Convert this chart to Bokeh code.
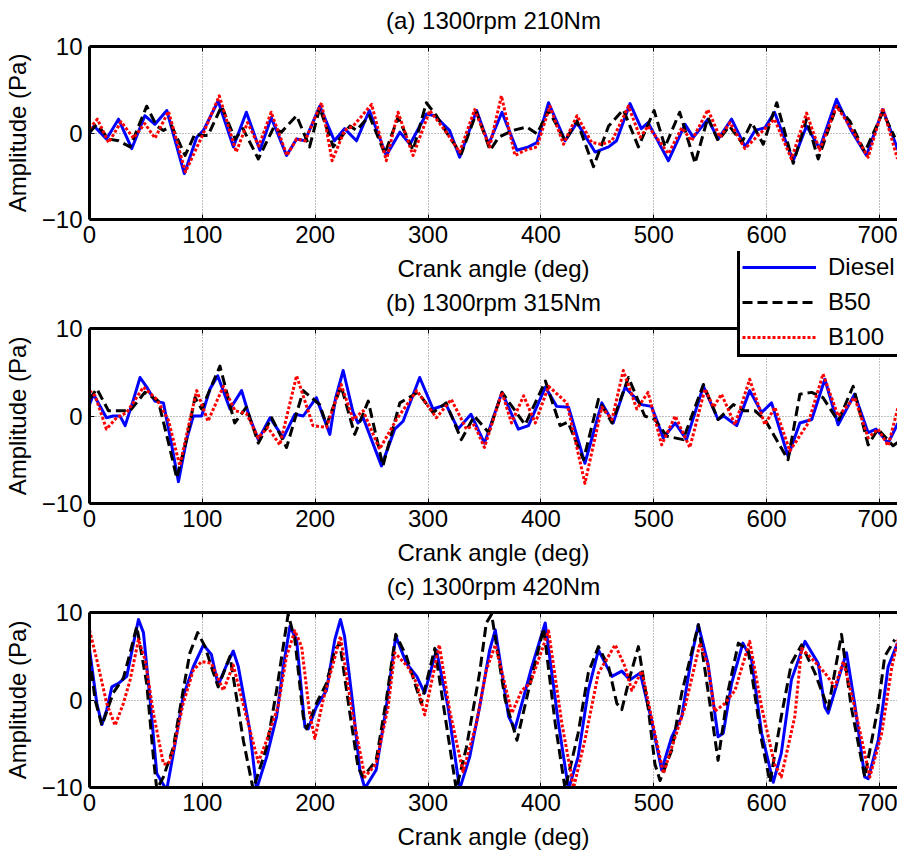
from bokeh.plotting import figure
from bokeh.models import Range1d, FixedTicker, LinearAxis, Legend, LegendItem
from bokeh.layouts import column
from bokeh.embed import file_html
from bokeh.resources import INLINE

# ---------------- data ----------------
panel_titles = ["(a) 1300rpm 210Nm", "(b) 1300rpm 315Nm", "(c) 1300rpm 420Nm"]
series_names = ["Diesel", "B50", "B100"]
x_ticks = [0, 100, 200, 300, 400, 500, 600, 700]
y_ticks = [-10, 0, 10]

# Panel (a) 210 Nm
a_diesel_x = [0, 4, 15, 25.7, 37.5, 49, 58, 68.5, 84, 95, 101, 114, 127.5, 139, 151, 161, 174.6, 183.5, 191, 204, 217, 226, 236.6, 248, 263, 275, 284, 298.5, 306, 319, 328, 343, 353.7, 365.5, 378.8, 389, 396.5, 406.8, 421.5, 432, 448, 460, 467, 479, 489, 495, 513, 527.7, 535, 548, 557, 569, 581, 589.7, 598.5, 607, 623.6, 635.4, 647, 662, 675, 688.5, 703, 716.5]
a_diesel_y = [0, 0.8, -0.7, 1.6, -1.8, 2.0, 1.0, 2.6, -4.7, -0.5, 0.3, 3.7, -1.6, 2.4, -2.0, 1.8, -2.6, -0.7, -0.9, 3.1, -0.9, 0.5, -0.9, 2.6, -2.6, 0.1, -1.3, 2.2, 2.0, 0.3, -2.8, 2.6, -1.3, 2.4, -2.0, -1.6, -1.1, 3.5, -0.9, 1.2, -2.2, -1.6, -0.9, 3.4, 0.5, 1.2, -3.2, 1.0, -0.5, 1.6, -0.7, 1.6, -1.6, 0.3, 0.6, 2.4, -3.2, 0.8, -1.8, 3.9, 0.3, -2.6, 2.7, -2.0]
a_b50_x = [0, 6.5, 17, 25.7, 36, 50.7, 59.6, 65.5, 72.9, 84.7, 93.5, 99.4, 105, 117, 129, 136, 149.6, 163, 170, 183.5, 195, 204, 216, 230.7, 236.6, 248, 261.7, 273.4, 286.7, 298.5, 307.4, 319, 329.5, 343, 355, 362.5, 375, 387.6, 396.5, 406.8, 421.5, 432, 446.6, 460, 473, 486.4, 500.3, 510, 523, 536.6, 548, 557, 567, 578, 586.7, 597, 609, 623.6, 635.4, 645.7, 662, 673.7, 687, 703, 713.6]
a_b50_y = [0.1, 1.0, -0.7, -0.9, -1.6, 3.1, 0.8, 0.3, 0.8, -2.6, -0.1, -0.3, -0.3, 3.1, -0.7, 0.5, -3.0, 0.6, 0.1, 2.0, -1.6, 2.9, -1.6, 0.8, 0.3, 2.0, -2.4, 1.8, -2.0, 3.5, 2.0, -0.5, -2.4, 2.4, -2.0, -0.5, 0.3, 0.7, -0.1, 2.6, -0.9, 1.4, -3.9, 0.8, 2.7, -1.6, 2.6, -1.6, 2.4, -3.5, 1.8, -0.9, 0.8, -1.1, 1.2, -1.3, 3.5, -3.5, 1.6, -3.0, 3.1, 1.4, -2.2, 2.4, -0.5]
a_b100_x = [0, 7, 17, 28, 39, 49, 58, 70, 85, 100, 115, 130, 140, 150, 161, 175, 183.5, 191, 205.6, 215, 226, 233.6, 250, 263, 273.4, 286.7, 301.5, 315, 328, 341.3, 354.6, 365, 377, 386, 396.5, 408, 420, 432, 445, 454, 463, 477.6, 488, 495, 513, 524.8, 533.6, 548, 558.7, 567.6, 580.8, 598.5, 607, 622, 635.4, 647, 662, 673.7, 690, 703, 716]
a_b100_y = [0.5, 1.6, -1.1, 1.3, -0.6, 1.1, -0.6, 2.5, -4.5, -0.3, 4.3, -2.2, 1.2, -1.5, 2.4, -2.6, -0.7, -0.9, 3.5, -3.2, 0.3, 0.8, 3.3, -3.2, 2.4, -2.6, 2.6, 0.3, -2.2, 2.7, -1.6, 4.3, -2.6, -2.0, -1.6, 3.1, -1.3, 2.0, -1.1, -1.3, -0.9, 3.1, -0.5, 0.8, -2.4, 0.6, -0.9, 2.7, -0.5, 1.2, -1.8, 0.5, 1.6, -3.0, 2.3, -2.0, 3.1, 0.8, -2.8, 2.9, -3.0]

# Panel (b) 315 Nm
b_diesel_x = [0, 3.5, 15, 21, 27, 31.6, 39, 44.8, 50.7, 58, 65.5, 72.9, 78.8, 86, 92, 99.4, 106.8, 113.6, 124.5, 134.8, 142, 149.6, 160, 171.7, 182, 189.4, 201, 213, 218, 224.8, 233.6, 238, 242.5, 258.7, 270.5, 277.9, 292.6, 304.4, 316, 326.5, 338, 350, 365.5, 380, 389, 404, 414, 424.5, 439, 454, 464, 474.6, 489, 498, 508.5, 519, 529, 544, 557, 562, 573.5, 585, 595.6, 604.4, 619, 629.5, 640, 651.6, 663.4, 678, 690, 697, 707.7, 716.5]
b_diesel_y = [1.3, 2.5, -0.2, 0, 0, -1.1, 1.9, 4.4, 3.3, 1.7, 1.5, -3.4, -7.5, -2.7, 0, 0, 3.1, 4.6, 0.8, 2.9, -0.2, -2.7, -0.2, -2.5, 0.2, 0, 2.1, -2.1, 2.0, 5.2, 0.4, -0.8, -0.2, -5.7, -1.5, -0.6, 4.4, 0.8, 1.3, -1.5, 0.2, -3.1, 2.7, -1.5, -1.1, 3.3, 1.1, 1.0, -5.4, 1.5, -0.8, 3.3, 1.3, 1.1, -2.5, -0.8, -2.7, 3.4, -0.4, 0, -1.1, 2.9, 0.4, 1.5, -4.6, -0.8, -0.4, 4.2, -1.0, 2.5, -1.9, -1.5, -3.1, -0.8]
b_b50_x = [0, 6.5, 16.8, 25.7, 36, 49, 61, 71.4, 77.3, 86, 93.5, 99.4, 115.6, 128.6, 139, 149.6, 161.4, 174.6, 189.4, 204, 210, 223, 235, 247, 260, 275, 291, 304.4, 316, 329.5, 341, 353.7, 365.5, 386, 404, 417, 424, 437.8, 451, 463, 477.6, 492, 501, 511.5, 526, 544, 557, 570.5, 580, 589.7, 598.5, 619, 629.5, 640, 650, 663.4, 676.7, 690, 698.8, 712, 716.5]
b_b50_y = [1.9, 3.1, 0.6, 0.6, 0.6, 2.7, 1.7, -3.8, -7.1, -2.7, 2.1, 0.8, 5.7, -0.8, 1.0, -3.1, -0.2, -3.6, 2.9, 1.3, -1.0, 3.4, -2.1, 1.7, -5.7, 1.5, 2.7, 0.4, 1.5, -2.7, 0, -1.9, 2.7, -1.0, 4.0, -1.1, -0.7, -5.0, 1.9, -0.8, 4.4, 0, -0.4, -2.3, -2.7, 3.6, -0.4, 1.3, 0.6, 0.6, -0.4, -5.0, 2.5, 2.7, 2.1, -0.6, 3.4, -3.3, -1.5, -3.4, -3.0]
b_b100_x = [0, 5, 15, 24, 33, 47.8, 59.6, 70, 80, 88, 95, 105, 118.6, 129, 139, 149.6, 158, 168.7, 183.5, 198, 210, 223, 233.6, 242.5, 257, 272, 290, 307.4, 320.6, 334, 341, 350, 365.5, 374, 384.7, 395, 406.8, 423, 439, 454, 463, 473, 485, 495, 507, 519, 532, 545.4, 553, 560, 572, 585, 598.5, 607.4, 620.6, 636.9, 650, 663.4, 678, 690, 698.8, 707.7, 716.5]
b_b100_y = [2.9, 2.3, -1.5, -0.2, 0.4, 3.3, 1.9, -0.5, -5.7, -1.0, 2.9, -0.6, 3.4, 0.6, 0.3, -2.5, -1.3, -3.3, 4.6, -1.1, -1.3, 3.6, -0.4, 0.6, -3.8, -0.4, 2.9, -0.2, 1.9, -1.5, -1.0, -3.6, 2.7, -0.8, 2.3, -0.8, 3.4, 1.5, -7.7, 1.0, -0.4, 5.2, 0.8, 2.7, -3.3, 0, -3.6, 3.1, 1.0, 2.5, -1.0, 4.2, -1.0, 1.0, -4.0, -0.8, 4.8, 0, 2.1, -2.5, -1.5, -3.4, 1.0]

# Panel (c) 420 Nm
c_diesel_x = [0, 6.5, 11, 15.3, 19.8, 25.7, 33, 39, 43.4, 47.8, 53.7, 59.6, 68.4, 74.3, 83, 92, 101, 108, 114, 121.5, 127.4, 131.9, 142, 148, 157, 165.8, 171.7, 177.6, 183.5, 190.9, 193.8, 201, 210, 217.4, 222.4, 226, 233.6, 239.5, 244, 254, 263, 271.4, 280.8, 290, 297, 307.4, 317.7, 328, 336.9, 345.7, 354.6, 359.6, 371.4, 377, 392, 403.8, 415.6, 424.5, 433, 442, 451, 463, 471.7, 479, 488, 498, 507, 516, 524.8, 533.6, 539.5, 548, 557, 561.6, 569, 579, 586.7, 595.6, 605.9, 613, 622, 634, 645.7, 651.6, 654.6, 663.4, 670.8, 678, 687, 690, 699, 707.7, 716]
c_diesel_y = [5.8, -0.4, -2.8, -1.1, 1.5, 1.9, 2.7, 6.5, 9.2, 7.7, 0, -8.4, -10.3, -6.1, 0.4, 3.8, 6.3, 5.2, 1.7, 4.0, 5.6, 3.8, -3.4, -10.2, -6.5, -1.9, 3.8, 8.4, 6.9, -3.1, -3.3, -0.8, 1.1, 6.9, 9.2, 7.3, -0.8, -8.0, -10.1, -8.0, -0.8, 7.3, 4.2, 2.7, 0.8, 5.7, -0.8, -10.2, -6.5, -0.8, 5.7, 8.0, -1.9, -3.3, 3.8, 8.8, -2.7, -10.2, -6.5, 1.1, 5.7, 2.7, 3.3, 2.3, 3.1, -2.3, -8.0, -4.2, -1.9, 5.0, 8.6, 4.2, -4.2, -3.8, 1.9, 6.5, 4.6, -3.8, -9.4, -6.1, 2.3, 6.7, 4.2, -0.8, -1.5, 2.3, 5.4, -0.4, -8.8, -9.0, -4.6, 3.8, 6.5]
c_b50_x = [0, 5, 11, 21, 30, 36, 41.9, 50.7, 56.6, 59.6, 65.5, 74.3, 83, 89, 95.9, 102.4, 108, 114, 124.5, 136.3, 145, 157, 165.8, 176, 182, 189.4, 192.3, 201, 210, 217.4, 221.8, 230.7, 238, 242.5, 254, 263, 271.4, 280.8, 294, 306, 314.7, 325, 334, 345.7, 351.6, 356.3, 368.4, 378.8, 389, 402.4, 412.7, 421.5, 433, 442, 451, 460, 467.3, 471.7, 479, 486.4, 495, 501, 505.6, 516, 524.8, 539.5, 551, 557, 566, 575, 583.7, 595.6, 603, 613, 622, 631, 642.8, 654.6, 666.4, 675, 687, 698.8, 704.7, 713.6]
c_b50_y = [5.0, 0, -2.9, 0.8, 2.5, 5.4, 8.4, 1.9, -6.5, -10.2, -8.8, -5.4, 1.1, 5.4, 7.7, 6.1, 3.8, 1.5, 5.0, -4.6, -10.2, -5.4, 1.1, 9.8, 6.9, -1.9, -3.3, -0.4, 1.9, 5.7, 6.5, -1.5, -7.7, -8.8, -6.9, 0, 7.5, 5.0, -0.4, 5.9, -1.5, -10.2, -5.4, 3.1, 8.8, 9.8, 0, -4.6, 1.1, 8.2, -2.7, -10.2, -3.8, 3.1, 6.1, 3.8, -0.4, -1.1, 2.7, 6.1, -0.8, -7.3, -9.2, -5.7, 0.8, 8.6, -1.5, -6.9, 1.1, 6.5, 5.7, -4.6, -9.4, -1.9, 4.2, 6.3, 3.1, -1.0, 7.5, -0.8, -8.8, -0.8, 5.0, 6.9]
c_b100_x = [0, 6.5, 15.3, 22.7, 30, 36, 43.4, 49.3, 56.6, 65.5, 70, 74.3, 83, 92, 99.4, 108, 118.6, 127.4, 139, 149.6, 157, 167, 174.6, 182, 188, 195, 199.7, 207, 216, 222.4, 232, 244, 254, 264.6, 270.5, 282, 290, 297, 310, 319, 331, 342.8, 351.6, 359.6, 374.3, 383, 390.6, 406.8, 418.6, 429, 439, 451, 465.8, 474.6, 480.5, 489.4, 501, 508.6, 516, 527.7, 541, 548, 554, 563, 572, 585, 595.6, 607, 613, 625, 631, 641, 651.6, 660.5, 668, 678, 691.5, 702, 711, 716.5]
c_b100_y = [8.0, 4.6, -0.4, -2.9, -0.4, 2.3, 6.9, 4.6, -1.5, -7.3, -7.3, -5.7, -0.4, 3.4, 4.4, 4.2, 1.1, 4.0, -1.9, -7.1, -4.6, -0.8, 5.0, 7.9, 6.1, -1.5, -4.4, 0, 4.2, 7.3, -0.8, -8.8, -7.3, -0.8, 5.4, 3.8, 1.9, -1.7, 6.3, -1.1, -8.2, -2.7, 3.4, 6.3, -1.5, 1.1, 1.9, 7.9, -2.7, -10.0, -4.6, 3.1, 6.3, 3.8, 1.1, 3.3, -3.8, -8.4, -5.4, -0.8, 6.5, 4.0, -1.3, -0.4, 1.1, 6.7, -0.8, -7.3, -8.8, -1.9, 5.9, 4.6, 3.1, 1.5, 4.4, -0.8, -8.8, -3.8, 3.8, 6.9]

# ---------------- styling ----------------
FONT = "Liberation Sans"
FS = "24px"
colors = {"Diesel": "#0000ff", "B50": "#000000", "B100": "#ff0000"}
dashes = {"Diesel": "solid", "B50": "10 5", "B100": "3 2"}
LW = 3
LEFT = 88


def style_axis(ax):
    ax.axis_line_width = 3
    ax.axis_line_color = "black"
    ax.major_tick_in = 5
    ax.major_tick_out = 0
    ax.major_tick_line_width = 1
    ax.minor_tick_line_color = None
    ax.major_label_text_font = FONT
    ax.major_label_text_font_size = FS
    ax.major_label_text_color = "black"
    ax.axis_label_text_font = FONT
    ax.axis_label_text_font_size = FS
    ax.axis_label_text_font_style = "normal"
    ax.axis_label_text_color = "black"


def make_panel(title, data, top, bottom):
    p = figure(width=897, height=284, x_range=Range1d(0, 716), y_range=Range1d(-10, 10),
               output_backend="svg", toolbar_location=None,
               min_border_left=LEFT, min_border_right=0, min_border_top=top, min_border_bottom=bottom)
    p.outline_line_color = None
    p.background_fill_color = "white"
    xa = p.xaxis[0]
    xa.ticker = FixedTicker(ticks=x_ticks)
    xa.axis_label = "Crank angle (deg)"
    style_axis(xa)
    xa.major_label_standoff = 6
    xa.axis_label_standoff = 9
    ya = p.yaxis[0]
    ya.ticker = FixedTicker(ticks=y_ticks)
    ya.axis_label = "Amplitude (Pa)"
    style_axis(ya)
    ya.major_label_standoff = 7
    ya.axis_label_standoff = 8
    # top frame edge; its axis label carries the panel title
    top_ax = LinearAxis(ticker=FixedTicker(ticks=x_ticks), axis_label=title)
    style_axis(top_ax)
    top_ax.major_label_text_font_size = "8px"
    top_ax.major_label_text_color = None
    top_ax.major_label_standoff = 0
    top_ax.axis_label_standoff = 13
    p.add_layout(top_ax, "above")
    p.xgrid.ticker = FixedTicker(ticks=x_ticks)
    p.ygrid.ticker = FixedTicker(ticks=[0])
    for g in (p.xgrid[0], p.ygrid[0]):
        g.grid_line_color = "#7f7f7f"
        g.grid_line_dash = "1 2"
        g.grid_line_width = 1
    for name, (xs, ys) in zip(series_names, data):
        p.line(xs, ys, line_color=colors[name], line_width=LW, line_dash=dashes[name],
               line_join="round")
    return p


pa = make_panel(panel_titles[0], [(a_diesel_x, a_diesel_y), (a_b50_x, a_b50_y), (a_b100_x, a_b100_y)], 46, 64)
pb = make_panel(panel_titles[1], [(b_diesel_x, b_diesel_y), (b_b50_x, b_b50_y), (b_b100_x, b_b100_y)], 44, 65)
pc = make_panel(panel_titles[2], [(c_diesel_x, c_diesel_y), (c_b50_x, c_b50_y), (c_b100_x, c_b100_y)], 44, 65)

# Legend on its own transparent canvas, laid over the gap between panels (a) and (b).
# Its key lines reuse panel (b)'s series, mapped far outside this canvas's visible range.
LEG_TOP = 251
LEG_H = 110
lf = figure(width=897, height=LEG_H, x_range=Range1d(0, 1), y_range=Range1d(100, 101),
            output_backend="svg", toolbar_location=None,
            x_axis_location=None, y_axis_location=None,
            min_border_left=LEFT, min_border_right=0, min_border_top=0, min_border_bottom=0)
lf.outline_line_color = None
lf.border_fill_alpha = 0
lf.background_fill_alpha = 0
lf.xgrid.visible = False
lf.ygrid.visible = False
key_rends = [lf.line(xs, ys, line_color=colors[n], line_width=LW, line_dash=dashes[n])
             for n, (xs, ys) in zip(series_names, [(b_diesel_x, b_diesel_y), (b_b50_x, b_b50_y), (b_b100_x, b_b100_y)])]
legend = Legend(items=[LegendItem(label=n, renderers=[r]) for n, r in zip(series_names, key_rends)],
                location=(736 - LEFT, 4), orientation="vertical",
                border_line_color="black", border_line_width=3, border_line_alpha=1.0,
                background_fill_color="white", background_fill_alpha=1.0,
                label_text_font=FONT, label_text_font_size=FS, label_text_color="black",
                glyph_width=74, glyph_height=30, label_height=30, label_width=120, label_standoff=12,
                padding=2, spacing=5, margin=0)
lf.add_layout(legend, "center")
lf.margin = (LEG_TOP - 568, 0, 0, 0)
pc.margin = (568 - (LEG_TOP + LEG_H), 0, 0, 0)

layout = column(pa, pb, lf, pc, spacing=0)
open("out.html", "w").write(file_html(layout, INLINE))
